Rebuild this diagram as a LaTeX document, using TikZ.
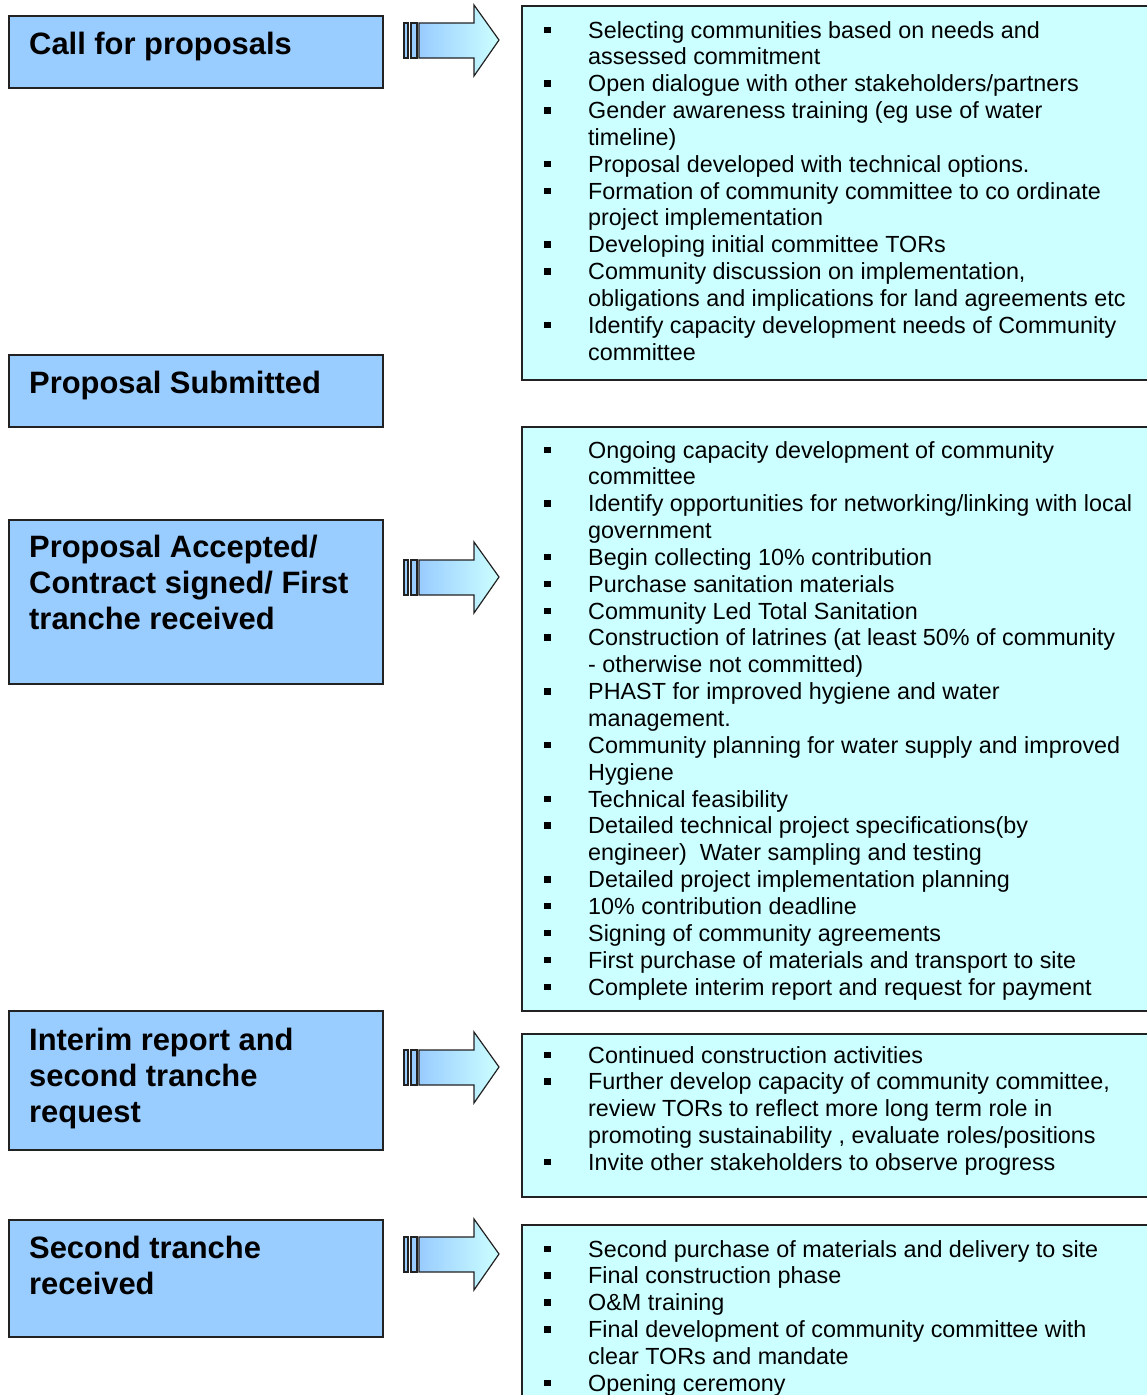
\documentclass[tikz,border=0pt]{standalone}
\usepackage{fontspec}
\setmainfont{Liberation Sans}
\usetikzlibrary{shadings}
\definecolor{lblue}{HTML}{99CCFF}
\definecolor{lcyan}{HTML}{CCFFFF}
\definecolor{edge}{HTML}{222222}
\newcommand\bul{\rule[5pt]{7pt}{6.5pt}}
\newenvironment{blist}{\begin{tabular}[t]{@{}p{44pt}@{}l@{}}}{\end{tabular}}
\newenvironment{tlines}{\begin{tabular}[t]{@{}l@{}}}{\end{tabular}}
\tikzset{
  lbox/.style={draw=edge, line width=1.5pt, fill=lblue, anchor=north west, inner sep=0pt, minimum width=374pt},
  rbox/.style={draw=edge, line width=1.5pt, fill=lcyan, anchor=north west, inner sep=0pt, minimum width=700pt},
  ltitle/.style={anchor=base west, inner sep=0pt, font=\fontsize{30.9}{36}\selectfont\bfseries},
  rtext/.style={anchor=base west, inner sep=0pt, font=\fontsize{23.35}{26.85}\selectfont},
  arrowbody/.style={draw=edge, line width=1.2pt, left color=lblue, right color=lcyan},
  stripe/.style={draw=edge, line width=1.2pt, fill=lblue}
}
\newcommand\blockarrow[1]{%
  \draw[stripe] (404,#1-17) rectangle (408,#1+18);
  \draw[stripe] (411,#1-17) rectangle (417,#1+18);
  \draw[arrowbody] (419,#1-17) -- (474,#1-17) -- (474,#1-35) -- (499,#1) -- (474,#1+36) -- (474,#1+18) -- (419,#1+18) -- cycle;
}
\begin{document}
\begin{tikzpicture}[x=1pt,y=-1pt]
\useasboundingbox (0,0) rectangle (1147,1395);

% left boxes
\node[lbox, minimum height=72pt] (L1) at (8,15) {};
\node[lbox, minimum height=72pt] (L2) at (8,354) {};
\node[lbox, minimum height=164pt] (L3) at (8,519) {};
\node[lbox, minimum height=139pt] (L4) at (8,1010) {};
\node[lbox, minimum height=117pt] (L5) at (8,1219) {};

\node[ltitle] (T1) at (29,54) {Call for proposals};
\node[ltitle] (T2) at (29,393) {Proposal Submitted};
\node[ltitle] (T3) at (29,557) {\begin{tlines}Proposal Accepted/\\Contract signed/ First\\tranche received\end{tlines}};
\node[ltitle] (T4) at (29,1050) {\begin{tlines}Interim report and\\second tranche\\request\end{tlines}};
\node[ltitle] (T5) at (29,1258) {\begin{tlines}Second tranche\\received\end{tlines}};

% right boxes
\node[rbox, minimum height=374pt] (R1) at (521,5) {};
\node[rbox, minimum height=584pt] (R2) at (521,426) {};
\node[rbox, minimum height=163pt] (R3) at (521,1033) {};
\node[rbox, minimum height=200pt] (R4) at (521,1224) {};

% arrows
\blockarrow{40}
\blockarrow{577}
\blockarrow{1067}
\blockarrow{1254}

\node[rtext] (X1) at (544,38) {\begin{blist}
\bul & Selecting communities based on needs and\\
 & assessed commitment\\
\bul & Open dialogue with other stakeholders/partners\\
\bul & Gender awareness training (eg use of water\\
 & timeline)\\
\bul & Proposal developed with technical options.\\
\bul & Formation of community committee to co ordinate\\
 & project implementation\\
\bul & Developing initial committee TORs\\
\bul & Community discussion on implementation,\\
 & obligations and implications for land agreements etc\\
\bul & Identify capacity development needs of Community\\
 & committee
\end{blist}};

\node[rtext] (X2) at (544,458) {\begin{blist}
\bul & Ongoing capacity development of community\\
 & committee\\
\bul & Identify opportunities for networking/linking with local\\
 & government\\
\bul & Begin collecting 10\% contribution\\
\bul & Purchase sanitation materials\\
\bul & Community Led Total Sanitation\\
\bul & Construction of latrines (at least 50\% of community\\
 & - otherwise not committed)\\
\bul & PHAST for improved hygiene and water\\
 & management.\\
\bul & Community planning for water supply and improved\\
 & Hygiene\\
\bul & Technical feasibility\\
\bul & Detailed technical project specifications(by\\
 & engineer)\ \ Water sampling and testing\\
\bul & Detailed project implementation planning\\
\bul & 10\% contribution deadline\\
\bul & Signing of community agreements\\
\bul & First purchase of materials and transport to site\\
\bul & Complete interim report and request for payment
\end{blist}};

\node[rtext] (X3) at (544,1063) {\begin{blist}
\bul & Continued construction activities\\
\bul & Further develop capacity of community committee,\\
 & review TORs to reflect more long term role in\\
 & promoting sustainability , evaluate roles/positions\\
\bul & Invite other stakeholders to observe progress
\end{blist}};

\node[rtext] (X4) at (544,1257) {\begin{blist}
\bul & Second purchase of materials and delivery to site\\
\bul & Final construction phase\\
\bul & O\&M training\\
\bul & Final development of community committee with\\
 & clear TORs and mandate\\
\bul & Opening ceremony
\end{blist}};
\end{tikzpicture}
\end{document}
